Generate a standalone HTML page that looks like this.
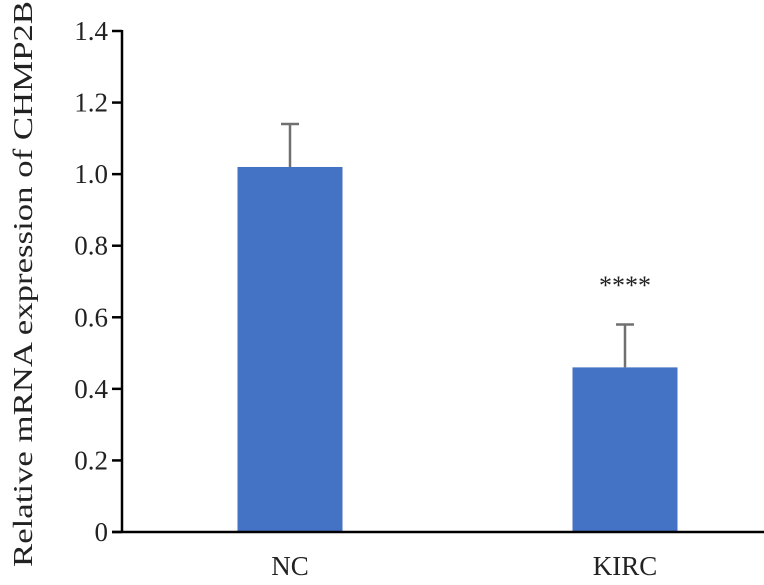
<!DOCTYPE html>
<html><head><meta charset="utf-8"><style>
html,body{margin:0;padding:0;background:#fff;width:764px;height:585px;overflow:hidden}
svg text{font-family:"Liberation Serif",serif;fill:#222}
</style></head><body>
<svg id="chart" width="764" height="585" xmlns="http://www.w3.org/2000/svg">
<text transform="translate(32,284) rotate(-90)" text-anchor="middle" font-size="27" textLength="566" lengthAdjust="spacingAndGlyphs">Relative mRNA expression of CHMP2B</text>
<g id="ticks"></g><g id="bars"></g>
<line x1="122" y1="30" x2="122" y2="532" stroke="#000" stroke-width="2.5"/>
<line x1="112" y1="532" x2="764" y2="532" stroke="#000" stroke-width="2.5"/>
</svg>
<script>
const categories = ["NC", "KIRC"];
const values = [1.02, 0.46];
const errors = [0.12, 0.12];
const significance = ["", "****"];
const yTicks = [0, 0.2, 0.4, 0.6, 0.8, 1.0, 1.2, 1.4];
const yTickLabels = ["0", "0.2", "0.4", "0.6", "0.8", "1.0", "1.2", "1.4"];
const NS = "http://www.w3.org/2000/svg";
function y(v){ return 532 - v * (501 / 1.4); }
function xc(i){ return 290 + i * 335; }
const tg = document.getElementById('ticks');
yTicks.forEach((t, i) => {
  const l = document.createElementNS(NS, 'line');
  
  
  l.setAttribute('x1', 112); l.setAttribute('x2', 122);
  l.setAttribute('y1', y(t)); l.setAttribute('y2', y(t));
  l.setAttribute('stroke', '#000'); l.setAttribute('stroke-width', '2.5');
  tg.appendChild(l);
  const tx = document.createElementNS(NS, 'text');
  
  
  tx.setAttribute('x', 108); tx.setAttribute('y', y(t) + 9);
  tx.setAttribute('text-anchor', 'end'); tx.setAttribute('font-size', '27');
  tx.textContent = yTickLabels[i];
  tg.appendChild(tx);
});
const bg = document.getElementById('bars');
categories.forEach((c, i) => {
  const cx = xc(i), w = 105;
  const r = document.createElementNS(NS, 'rect');
  
  
  r.setAttribute('x', cx - w / 2); r.setAttribute('y', y(values[i]));
  r.setAttribute('width', w); r.setAttribute('height', y(0) - y(values[i]));
  r.setAttribute('fill', '#4472C4');
  bg.appendChild(r);
  const e = document.createElementNS(NS, 'path');
  
  
  const top = y(values[i] + errors[i]);
  e.setAttribute('d', `M${cx} ${y(values[i])}V${top}M${cx - 9} ${top}H${cx + 9}`);
  e.setAttribute('stroke', '#707070'); e.setAttribute('stroke-width', '2.5'); e.setAttribute('fill', 'none');
  bg.appendChild(e);
  const lb = document.createElementNS(NS, 'text');
  
  
  lb.setAttribute('x', cx); lb.setAttribute('y', 575);
  lb.setAttribute('text-anchor', 'middle'); lb.setAttribute('font-size', '27');
  lb.textContent = c;
  bg.appendChild(lb);
  if (significance[i]) {
    const s = document.createElementNS(NS, 'text');
    
    
    s.setAttribute('x', cx); s.setAttribute('y', 294);
    s.setAttribute('text-anchor', 'middle'); s.setAttribute('font-size', '26');
    s.textContent = significance[i];
    bg.appendChild(s);
  }
});
</script>
</body></html>
